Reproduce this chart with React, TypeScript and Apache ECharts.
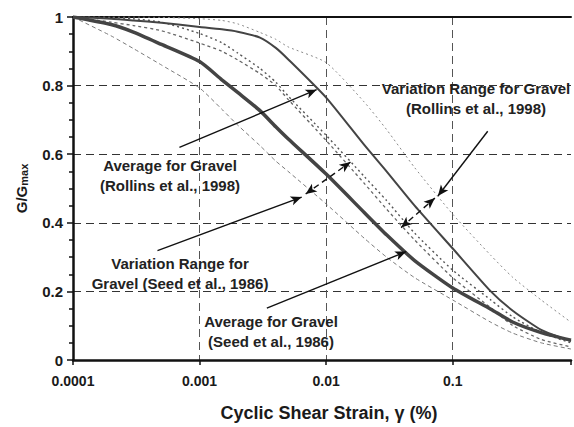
import { useEffect, useRef } from 'react';
import * as echarts from 'echarts';

const strains = [0.0001, 0.0002, 0.0003, 0.0005, 0.001, 0.0015, 0.002, 0.003, 0.004, 0.005, 0.01, 0.02, 0.03, 0.05, 0.1, 0.2, 0.3, 0.5, 0.86];
const rollinsAvg = [1, 0.995, 0.99, 0.983, 0.971, 0.964, 0.957, 0.94, 0.91, 0.877, 0.765, 0.627, 0.55, 0.45, 0.325, 0.2, 0.143, 0.088, 0.055];
const seedAvg = [1, 0.978, 0.956, 0.92, 0.87, 0.817, 0.78, 0.727, 0.68, 0.645, 0.542, 0.43, 0.365, 0.29, 0.21, 0.148, 0.11, 0.08, 0.058];
const seedLower = [1, 0.945, 0.908, 0.86, 0.793, 0.731, 0.685, 0.625, 0.58, 0.55, 0.455, 0.355, 0.3, 0.24, 0.175, 0.11, 0.078, 0.05, 0.032];
const seedUpper = [1, 0.998, 0.995, 0.985, 0.952, 0.925, 0.895, 0.85, 0.81, 0.77, 0.655, 0.535, 0.465, 0.37, 0.262, 0.175, 0.125, 0.08, 0.05];
const rollinsLower = [1, 0.985, 0.975, 0.96, 0.924, 0.9, 0.875, 0.835, 0.8, 0.76, 0.64, 0.515, 0.44, 0.35, 0.24, 0.152, 0.1, 0.06, 0.038];
const rollinsUpper = [1, 1, 1, 0.999, 0.995, 0.99, 0.98, 0.955, 0.935, 0.913, 0.867, 0.752, 0.672, 0.561, 0.425, 0.305, 0.24, 0.175, 0.11];

const xTickLabels: Record<string, string> = { '-4': '0.0001', '-3': '0.001', '-2': '0.01', '-1': '0.1' };

// annotation arrows in data coordinates [strain, G/Gmax]
const arrowFrom = [[0.000693, 0.62], [0.189, 0.667], [0.000465, 0.319], [0.0034, 0.151], [0.00689, 0.484], [0.0391, 0.386]];
const arrowTo = [[0.00841, 0.788], [0.0764, 0.478], [0.00641, 0.475], [0.0429, 0.316], [0.01556, 0.577], [0.0723, 0.472]];
const arrowDashed = [false, false, false, false, true, true];

const labelTexts = [
  'Average for Gravel\n(Rollins et al., 1998)',
  'Variation Range for Gravel\n(Rollins et al., 1998)',
  'Variation Range for\nGravel (Seed et al., 1986)',
  'Average for Gravel\n(Seed et al., 1986)',
];
const labelPos = [[170, 175], [476, 98], [180, 273], [271, 331]];

const FONT = '"Liberation Sans", Arial, sans-serif';

const pairs = (ys: number[]) => strains.map((x, i) => [x, ys[i]]);

export default function App() {
  const ref = useRef<HTMLDivElement>(null);
  useEffect(() => {
    if (!ref.current) return;
    const chart = echarts.init(ref.current, undefined, { renderer: 'svg' });
    const lineSeries = (name: string, ys: number[], color: string, width: number, type: any) => ({
      name,
      type: 'line',
      data: pairs(ys),
      showSymbol: false,
      smooth: 0.2,
      lineStyle: { color, width, type },
      z: 3,
    });
    const markData = arrowFrom.map((f, i) => [
      { coord: f, symbol: arrowDashed[i] ? 'arrow' : 'none', lineStyle: { type: arrowDashed[i] ? [6, 4] : 'solid', color: '#111', width: 1.4 } },
      { coord: arrowTo[i], symbol: 'arrow' },
    ]);
    chart.setOption({
      animation: false,
      grid: { left: 73, top: 17, right: 0, bottom: 65, containLabel: false },
      xAxis: [
        {
          type: 'log',
          logBase: 10,
          min: 0.0001,
          max: 0.86,
          axisLine: { show: true, lineStyle: { color: '#111', width: 2.5 } },
          axisTick: { show: true, length: 5, lineStyle: { color: '#111', width: 1.5 } },
          axisLabel: {
            margin: 14,
            color: '#1a1a1a',
            fontSize: 14,
            fontWeight: 'bold',
            fontFamily: FONT,
            formatter: (v: number) => {
              const l = Math.log10(v);
              const r = Math.round(l);
              if (Math.abs(l - r) > 1e-6) return '';
              return xTickLabels[String(r)] ?? '';
            },
          },
          splitLine: { show: true, showMaxLine: false, lineStyle: { color: '#555', width: 1, type: [8, 5] } },
          minorTick: { show: false },
          name: 'Cyclic Shear Strain, γ (%)',
          nameLocation: 'middle',
          nameGap: 44,
          nameTextStyle: { fontSize: 18, fontWeight: 'bold', fontFamily: FONT, color: '#1a1a1a', padding: [0, 0, 0, 14] },
        },
        {
          type: 'log',
          logBase: 10,
          min: 0.0001,
          max: 0.86,
          position: 'top',
          axisLine: { show: true, lineStyle: { color: '#111', width: 2 } },
          axisTick: { show: false },
          axisLabel: { show: false },
          splitLine: { show: false },
        },
      ],
      yAxis: {
        type: 'value',
        min: 0,
        max: 1,
        interval: 0.2,
        axisLine: { show: true, lineStyle: { color: '#111', width: 2.5 } },
        axisTick: { show: true, length: 6, lineStyle: { color: '#111', width: 1.5 } },
        minorTick: { show: true, splitNumber: 4, length: 4, lineStyle: { color: '#111', width: 1.5 } },
        axisLabel: {
          margin: 10,
          color: '#1a1a1a',
          fontSize: 15,
          fontWeight: 'bold',
          fontFamily: FONT,
          formatter: (v: number) => String(Math.round(v * 10) / 10),
        },
        splitLine: { show: true, lineStyle: { color: '#333', width: 1, type: [8, 5] } },
        name: '{a|G/G}{b|max}',
        nameLocation: 'middle',
        nameGap: 44,
        nameRotate: 90,
        nameTextStyle: {
          color: '#1a1a1a',
          rich: {
            a: { fontSize: 15, fontWeight: 'bold', fontFamily: FONT, color: '#1a1a1a', verticalAlign: 'bottom', lineHeight: 18 },
            b: { fontSize: 11, fontWeight: 'bold', fontFamily: FONT, color: '#1a1a1a', verticalAlign: 'bottom', lineHeight: 14 },
          },
        },
      },
      series: [
        lineSeries('Variation Range for Gravel (Seed et al., 1986) - lower', seedLower, '#7a7a7a', 1, [4, 3]),
        lineSeries('Variation Range for Gravel (Seed et al., 1986) - upper', seedUpper, '#555', 1.4, [2, 3]),
        lineSeries('Variation Range for Gravel (Rollins et al., 1998) - lower', rollinsLower, '#666', 1.3, [3, 3]),
        lineSeries('Variation Range for Gravel (Rollins et al., 1998) - upper', rollinsUpper, '#8a8a8a', 1, [2, 3]),
        lineSeries('Average for Gravel (Rollins et al., 1998)', rollinsAvg, '#444', 2, 'solid'),
        {
          ...lineSeries('Average for Gravel (Seed et al., 1986)', seedAvg, '#444', 3.5, 'solid'),
          markLine: {
            silent: true,
            animation: false,
            symbol: ['none', 'arrow'],
            symbolSize: [7, 11],
            label: { show: false },
            lineStyle: { color: '#111', width: 1.4, type: 'solid' },
            emphasis: { disabled: true },
            data: markData,
          },
        },
      ],
      graphic: labelTexts.map((t, i) => ({
        type: 'text',
        x: labelPos[i][0],
        y: labelPos[i][1],
        z: 10,
        style: {
          text: t,
          fill: '#222',
          fontSize: 15,
          fontWeight: 'bold',
          fontFamily: FONT,
          lineHeight: 20,
          align: 'center',
          verticalAlign: 'middle',
          textAlign: 'center',
          textVerticalAlign: 'middle',
        },
      })),
    });
    return () => chart.dispose();
  }, []);
  return <div ref={ref} style={{ position: 'fixed', left: 0, top: 0, width: 574, height: 427, background: '#fff' }} />;
}
